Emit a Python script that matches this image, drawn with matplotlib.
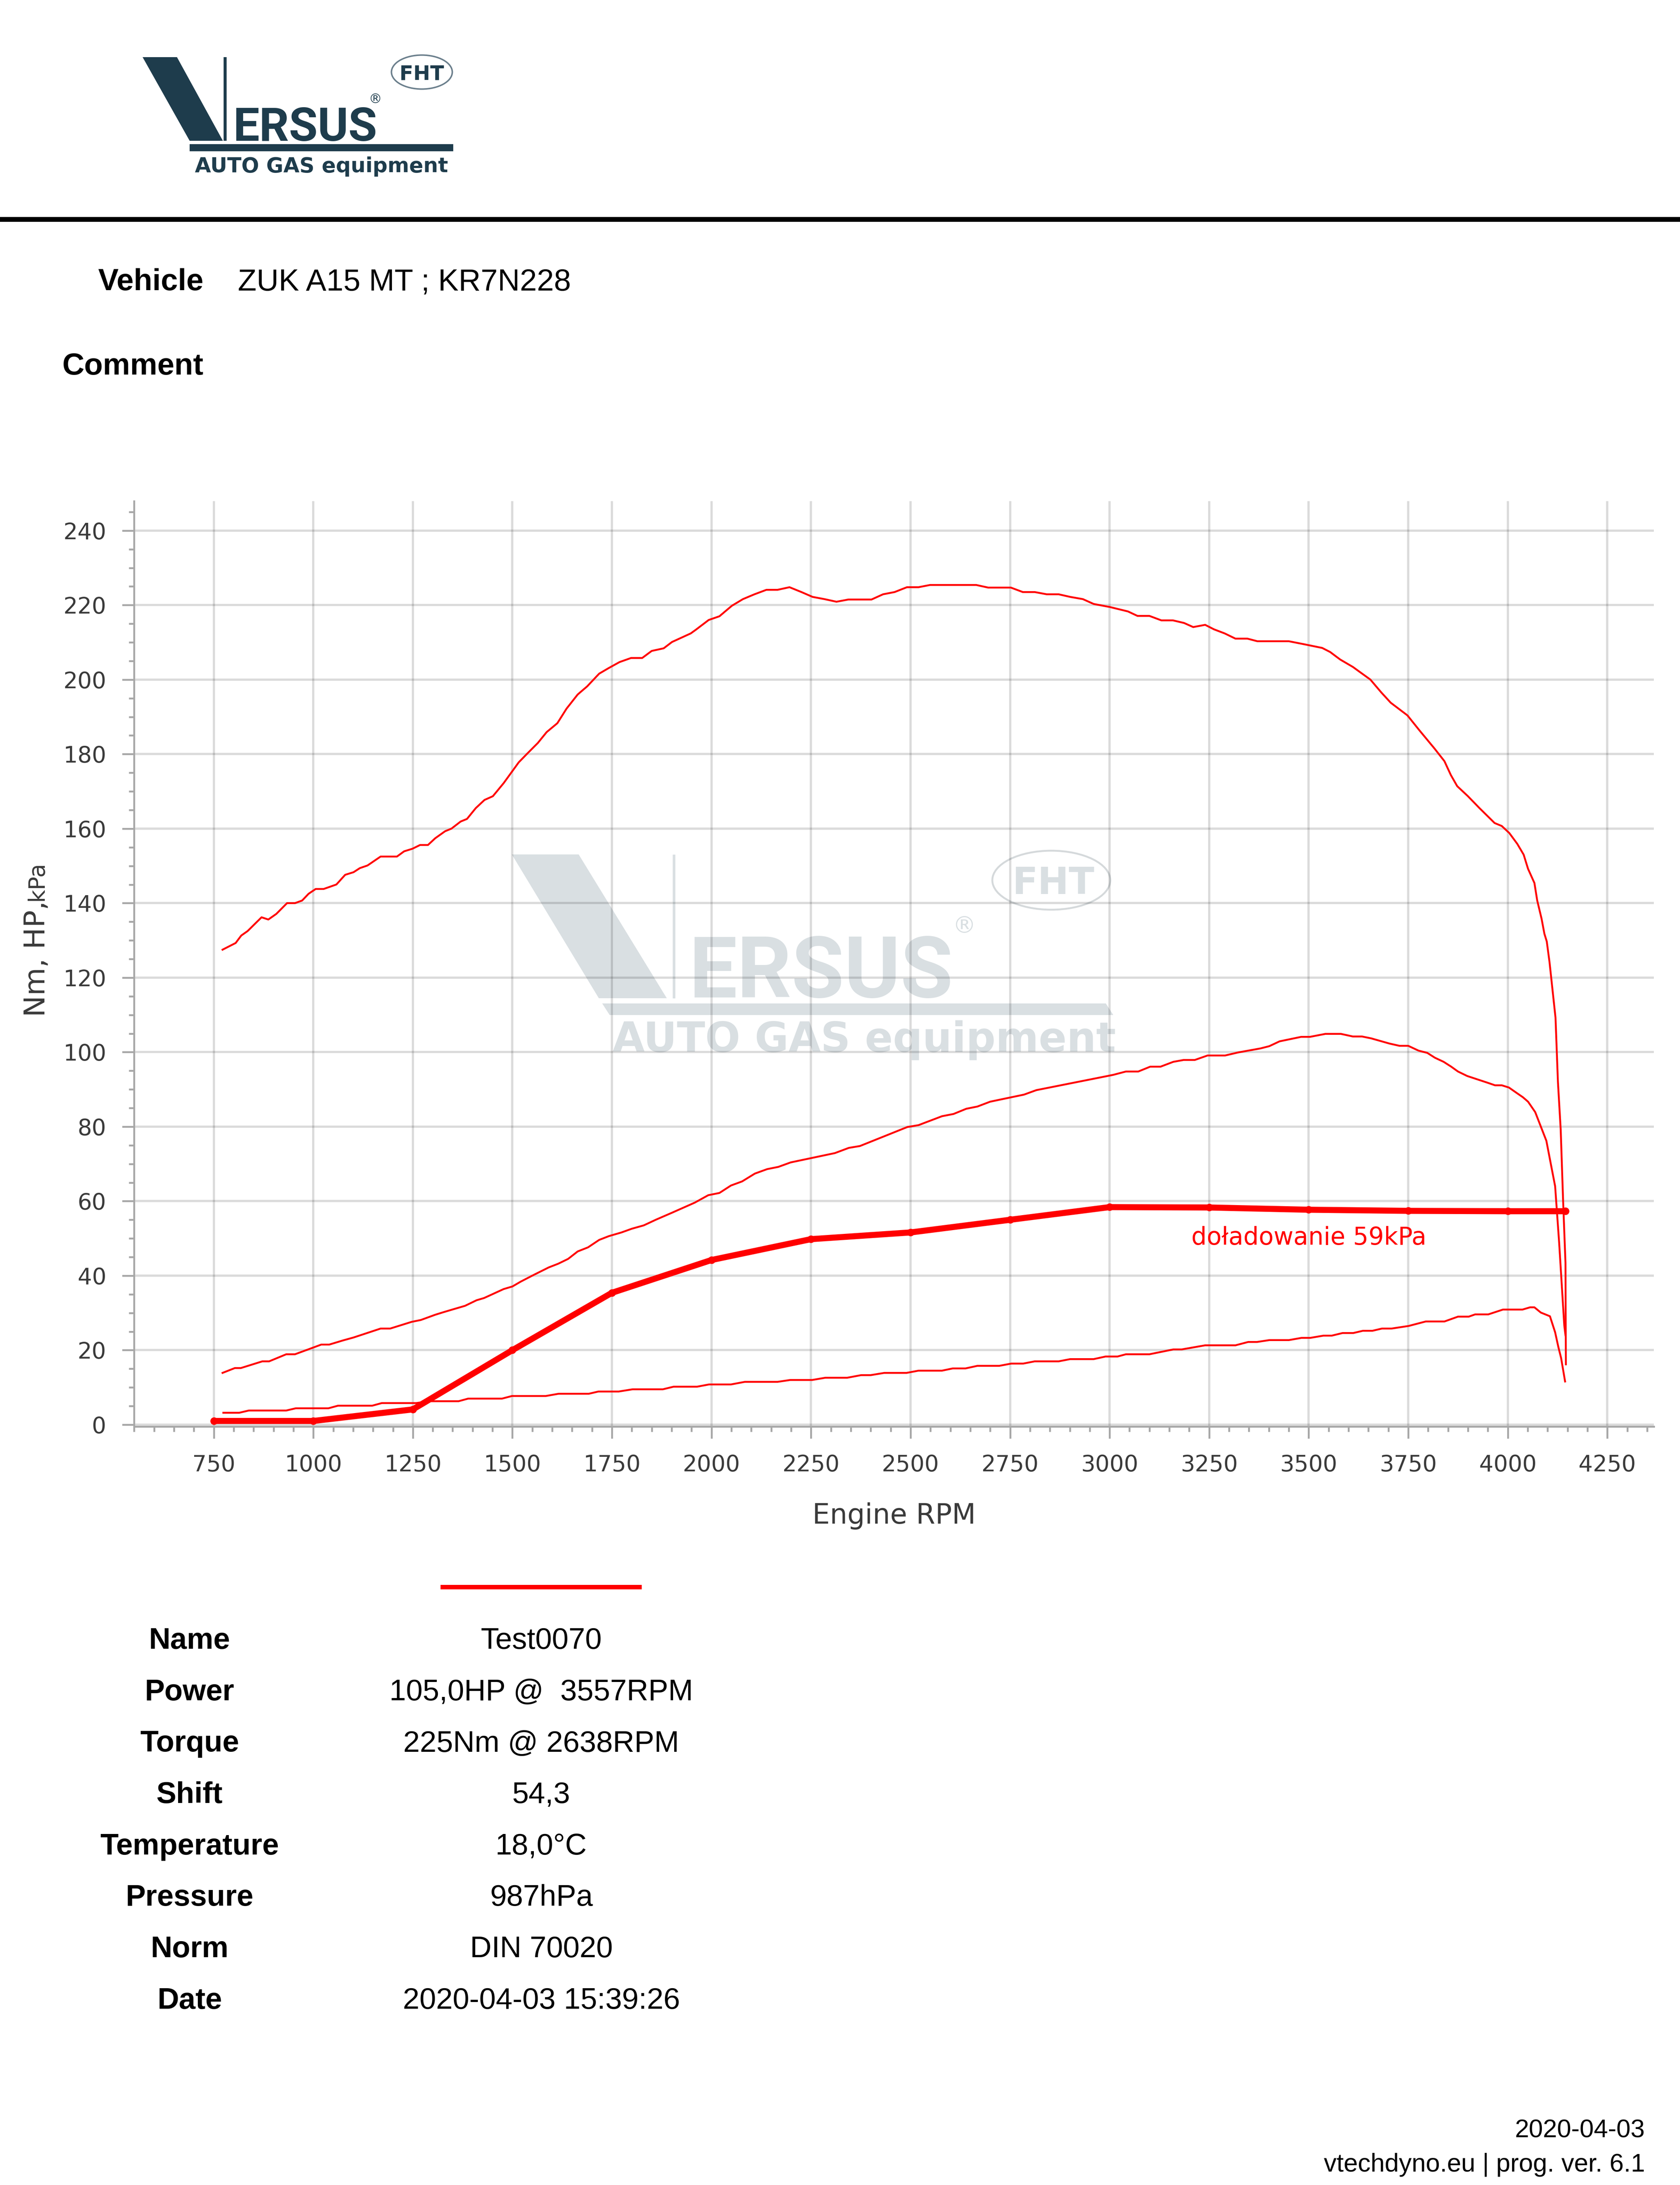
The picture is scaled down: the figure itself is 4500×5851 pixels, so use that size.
import matplotlib
matplotlib.use("Agg")
import matplotlib.pyplot as plt
from matplotlib.patches import Polygon, Ellipse, Rectangle
from matplotlib.ticker import MultipleLocator

# ---- data ----
torque_rpm = [772, 805, 819, 835, 870, 887, 907, 934, 954, 972, 988, 1006, 1026, 1058, 1080,
              1101, 1117, 1136, 1169, 1210, 1228, 1249, 1268, 1288, 1306, 1331, 1347, 1370,
              1386, 1408, 1430, 1451, 1478, 1516, 1537, 1564, 1586, 1613, 1636, 1664, 1688,
              1718, 1742, 1769, 1798, 1826, 1850, 1880, 1901, 1948, 1961, 1993, 2020, 2051,
              2079, 2108, 2138, 2166, 2196, 2226, 2254, 2284, 2314, 2344, 2402, 2431, 2460,
              2491, 2520, 2549, 2665, 2695, 2752, 2782, 2812, 2842, 2872, 2901, 2933, 2960,
              3000, 3046, 3070, 3100, 3130, 3159, 3187, 3210, 3240, 3262, 3289, 3316, 3346,
              3371, 3450, 3488, 3534, 3554, 3579, 3611, 3655, 3682, 3706, 3748, 3778, 3816,
              3841, 3857, 3873, 3900, 3929, 3967, 3985, 4004, 4024, 4040, 4051, 4067, 4074,
              4085, 4092, 4098, 4105, 4120, 4126, 4133, 4139, 4145, 4146]
torque_nm = [127.5, 129.3, 131.3, 132.5, 136.2, 135.6, 137.1, 140.0, 140.0, 140.7, 142.5, 143.8,
             143.8, 145.0, 147.6, 148.3, 149.4, 150.1, 152.5, 152.5, 153.9, 154.6, 155.6, 155.6,
             157.4, 159.3, 160.0, 161.9, 162.6, 165.5, 167.7, 168.7, 172.2, 177.8, 180.1, 183.0,
             185.9, 188.3, 192.2, 196.0, 198.2, 201.6, 203.1, 204.7, 205.8, 205.8, 207.7, 208.4,
             210.1, 212.4, 213.4, 216.0, 217.0, 219.8, 221.6, 222.9, 224.1, 224.1, 224.8, 223.5,
             222.2, 221.6, 220.9, 221.5, 221.5, 222.9, 223.5, 224.8, 224.8, 225.4, 225.4, 224.7,
             224.7, 223.5, 223.5, 222.9, 222.9, 222.2, 221.6, 220.3, 219.5, 218.3, 217.1, 217.1,
             215.9, 215.9, 215.2, 214.1, 214.7, 213.5, 212.4, 211.0, 211.0, 210.3, 210.3, 209.5,
             208.5, 207.4, 205.4, 203.4, 200.0, 196.6, 193.8, 190.4, 186.4, 181.5, 178.1, 174.4,
             171.4, 168.7, 165.5, 161.5, 160.7, 158.8, 155.9, 153.0, 149.2, 145.4, 140.7, 135.8,
             131.8, 129.7, 124.1, 109.2, 92.1, 79.2, 60.2, 43.4, 16.2]

power_rpm = [772, 803, 818, 872, 889, 932, 954, 1020, 1040, 1074, 1101, 1169, 1193, 1247, 1270,
             1306, 1327, 1349, 1381, 1410, 1429, 1478, 1500, 1521, 1548, 1591, 1615, 1640, 1664,
             1690, 1718, 1742, 1774, 1800, 1830, 1860, 1901, 1958, 1992, 2020, 2049, 2077, 2109,
             2140, 2168, 2199, 2310, 2345, 2373, 2492, 2520, 2579, 2608, 2640, 2668, 2700, 2785,
             2816, 3009, 3041, 3072, 3102, 3128, 3160, 3186, 3214, 3246, 3290, 3322, 3379, 3401,
             3427, 3481, 3503, 3542, 3581, 3611, 3634, 3657, 3680, 3703, 3728, 3750, 3776, 3798,
             3817, 3839, 3858, 3875, 3898, 3915, 3949, 3968, 3985, 4003, 4019, 4038, 4051, 4069,
             4097, 4119, 4129, 4142, 4145]
power_hp = [13.9, 15.2, 15.2, 17.0, 17.0, 18.9, 18.9, 21.5, 21.5, 22.6, 23.4, 25.8, 25.8, 27.6,
            28.1, 29.5, 30.2, 30.9, 31.9, 33.4, 34.0, 36.4, 37.1, 38.4, 39.9, 42.2, 43.2, 44.5,
            46.5, 47.6, 49.6, 50.6, 51.6, 52.6, 53.5, 55.0, 56.9, 59.6, 61.6, 62.2, 64.2, 65.3,
            67.4, 68.6, 69.2, 70.4, 72.9, 74.3, 74.8, 79.9, 80.4, 82.8, 83.4, 84.8, 85.4, 86.7,
            88.6, 89.8, 93.9, 94.8, 94.8, 96.1, 96.1, 97.4, 97.9, 97.9, 99.1, 99.1, 99.9, 101.0,
            101.6, 102.9, 104.1, 104.1, 104.9, 104.9, 104.2, 104.2, 103.7, 103.0, 102.3, 101.7,
            101.7, 100.4, 99.8, 98.5, 97.4, 96.1, 94.8, 93.6, 93.0, 91.8, 91.1, 91.1, 90.5, 89.3,
            87.9, 86.7, 83.9, 76.2, 64.0, 49.0, 26.6, 24.0]

loss_rpm = [774, 814, 838, 932, 956, 1038, 1062, 1148, 1172, 1258, 1292, 1365, 1389, 1474, 1499,
            1584, 1616, 1692, 1716, 1767, 1802, 1878, 1905, 1964, 1994, 2049, 2084, 2166, 2198,
            2253, 2286, 2341, 2376, 2400, 2434, 2490, 2520, 2579, 2606, 2638, 2668, 2723, 2753,
            2783, 2812, 2872, 2901, 2960, 2990, 3020, 3041, 3100, 3160, 3181, 3240, 3316, 3348,
            3370, 3401, 3450, 3482, 3504, 3537, 3558, 3585, 3612, 3636, 3660, 3684, 3708, 3751,
            3794, 3841, 3875, 3902, 3918, 3951, 3988, 4037, 4056, 4067, 4083, 4106, 4119, 4127,
            4134, 4144]
loss_hp = [3.2, 3.2, 3.8, 3.8, 4.4, 4.4, 5.1, 5.1, 5.8, 5.8, 6.3, 6.3, 7.0, 7.0, 7.7, 7.7, 8.3,
           8.3, 8.9, 8.9, 9.5, 9.5, 10.2, 10.2, 10.8, 10.8, 11.5, 11.5, 12.0, 12.0, 12.6, 12.6,
           13.3, 13.3, 13.9, 13.9, 14.5, 14.5, 15.1, 15.1, 15.8, 15.8, 16.4, 16.4, 17.0, 17.0,
           17.6, 17.6, 18.3, 18.3, 18.9, 18.9, 20.2, 20.2, 21.3, 21.3, 22.2, 22.2, 22.7, 22.7,
           23.3, 23.3, 23.9, 23.9, 24.6, 24.6, 25.2, 25.2, 25.8, 25.8, 26.5, 27.7, 27.7, 29.0,
           29.0, 29.6, 29.6, 30.9, 30.9, 31.5, 31.5, 30.1, 29.1, 24.8, 20.9, 17.9, 11.6]

boost_rpm = [750, 1000, 1250, 1500, 1750, 2000, 2250, 2500, 2750, 3000, 3250, 3500, 3750, 4000, 4145]
boost_kpa = [1.0, 1.0, 4.1, 20.0, 35.4, 44.2, 49.8, 51.6, 55.0, 58.4, 58.3, 57.7, 57.4, 57.3, 57.3]
boost_note = "doładowanie 59kPa"

vehicle = "ZUK A15 MT ; KR7N228"
table_labels = ["Name", "Power", "Torque", "Shift", "Temperature", "Pressure", "Norm", "Date"]
table_values = ["Test0070", "105,0HP @  3557RPM", "225Nm @ 2638RPM", "54,3", "18,0°C",
                "987hPa", "DIN 70020", "2020-04-03 15:39:26"]
footer_lines = ["2020-04-03", "vtechdyno.eu | prog. ver. 6.1"]

# ---- page setup (pixel based) ----
W, H = 4500, 5851
DPI = 300


def pt(pixels):
    # pixels on the page -> points
    return pixels * 72.0 / DPI


navy = "#1e3c4c"
wm = "#d9dfe2"
red = "#ff0000"
txt = "#3a3a3a"
axgray = "#a8a8a8"
arial = ["Liberation Sans", "DejaVu Sans"]

fig = plt.figure(figsize=(W / DPI, H / DPI), dpi=DPI)
fig.patch.set_facecolor("white")

# background layer in page pixels
bg = fig.add_axes([0, 0, 1, 1], zorder=0)
bg.set_xlim(0, W)
bg.set_ylim(H, 0)
bg.axis("off")

# top logo
bg.add_patch(Polygon([(382, 153), (474, 153), (597, 377), (508, 377)], closed=True, color=navy, lw=0))
bg.plot([603, 603], [153, 377], color=navy, lw=pt(8), solid_capstyle="butt")
bg.text(624, 377, "ERSUS", family=["Roboto", "DejaVu Sans"], fontweight="bold", fontsize=30,
        color=navy, ha="left", va="baseline")
bg.text(1005, 266, "®", fontsize=8.5, color=navy, ha="center", va="center")
bg.add_patch(Rectangle((508, 386), 706, 19, color=navy, lw=0))
bg.text(522, 461, "AUTO GAS equipment", family="DejaVu Sans", fontweight="bold", fontsize=13.4,
        color=navy, ha="left", va="baseline")
bg.add_patch(Ellipse((1130, 193), 163, 91, facecolor="white", edgecolor="#6b7f8c", lw=pt(4)))
bg.text(1130, 214, "FHT", family="DejaVu Sans", fontweight="bold", fontsize=13,
        color=navy, ha="center", va="baseline")

# separator
bg.add_patch(Rectangle((0, 581), W, 13, color="black", lw=0))

# header texts
bg.text(545, 777, "Vehicle", family=arial, fontweight="bold", fontsize=19.7, ha="right", va="baseline")
bg.text(637, 777, vehicle, family=arial, fontsize=19.7, ha="left", va="baseline")
bg.text(545, 1003, "Comment", family=arial, fontweight="bold", fontsize=19.7, ha="right", va="baseline")

# watermark inside the plot
bg.add_patch(Polygon([(1371, 2288), (1550, 2288), (1786, 2673), (1604, 2673)], closed=True, color=wm, lw=0))
bg.plot([1805, 1805], [2288, 2673], color=wm, lw=pt(7), solid_capstyle="butt")
bg.text(1846, 2671, "ERSUS", family=["Roboto", "DejaVu Sans"], fontweight="bold", fontsize=55,
        color=wm, ha="left", va="baseline")
bg.text(2583, 2481, "®", fontsize=15, color=wm, ha="center", va="center")
bg.add_patch(Polygon([(1613, 2687), (2962, 2687), (2982, 2718), (1633, 2718)], closed=True, color=wm, lw=0))
bg.text(1641, 2816, "AUTO GAS equipment", family="DejaVu Sans", fontweight="bold", fontsize=26.6,
        color=wm, ha="left", va="baseline")
bg.add_patch(Ellipse((2816, 2357), 316, 158, fill=False, edgecolor="#d5d9db", lw=pt(5)))
bg.text(2822, 2394, "FHT", family="DejaVu Sans", fontweight="bold", fontsize=24,
        color=wm, ha="center", va="baseline")

# ---- chart ----
ax_left, ax_right, ax_top, ax_bot = 359, 4430, 1342, 3820
ax = fig.add_axes([ax_left / W, 1 - ax_bot / H, (ax_right - ax_left) / W, (ax_bot - ax_top) / H], zorder=1)
ax.patch.set_alpha(0)
ax.set_xlim(549.7, 4367)
ax.set_ylim(-0.5, 247.9)

ax.plot(boost_rpm, boost_kpa, color=red, lw=3.9, marker="o", ms=pt(16),
        solid_capstyle="round", clip_on=False, zorder=3)
ax.plot(loss_rpm, loss_hp, color=red, lw=1.2, zorder=4)
ax.plot(power_rpm, power_hp, color=red, lw=1.2, zorder=4)
ax.plot(torque_rpm, torque_nm, color=red, lw=1.2, zorder=4)

ax.text(3205, 48.3, boost_note, color=red, fontsize=15.6, ha="left", va="baseline")

for side in ["top", "right"]:
    ax.spines[side].set_visible(False)
for side in ["left", "bottom"]:
    ax.spines[side].set_color(axgray)
    ax.spines[side].set_linewidth(pt(5))

ax.xaxis.set_major_locator(MultipleLocator(250))
ax.xaxis.set_minor_locator(MultipleLocator(50))
ax.yaxis.set_major_locator(MultipleLocator(20))
ax.yaxis.set_minor_locator(MultipleLocator(5))
ax.tick_params(which="major", direction="out", length=pt(32), width=pt(5), color=axgray,
               labelsize=14.5, labelcolor=txt, pad=pt(42))
ax.tick_params(which="minor", direction="out", length=pt(14), width=pt(5), color=axgray)
ax.grid(True, which="major", color="black", alpha=0.14, lw=pt(6))

# axis titles
bg.text((ax_left + ax_right) / 2, 4080, "Engine RPM", fontsize=17.8, color=txt, ha="center", va="baseline")
bg.text(120, 2723, "Nm, HP,", fontsize=18.5, color=txt, rotation=90, rotation_mode="anchor",
        ha="left", va="baseline")
bg.text(115, 2412, "kPa", fontsize=14.5, color=txt, rotation=90, rotation_mode="anchor",
        ha="left", va="baseline")

# ---- legend line and result table ----
bg.plot([1180, 1719], [4250, 4250], color=red, lw=pt(12), solid_capstyle="butt")
for i, (lab, val) in enumerate(zip(table_labels, table_values)):
    y = 4415 + i * 137.7
    bg.text(508, y, lab, family=arial, fontweight="bold", fontsize=19.2, ha="center", va="baseline")
    bg.text(1450, y, val, family=arial, fontsize=19.2, ha="center", va="baseline")

# footer
bg.text(4406, 5724, footer_lines[0], family=arial, fontsize=16.4, ha="right", va="baseline")
bg.text(4406, 5815, footer_lines[1], family=arial, fontsize=16.4, ha="right", va="baseline")

fig.savefig("out.png", dpi=DPI, facecolor="white")
